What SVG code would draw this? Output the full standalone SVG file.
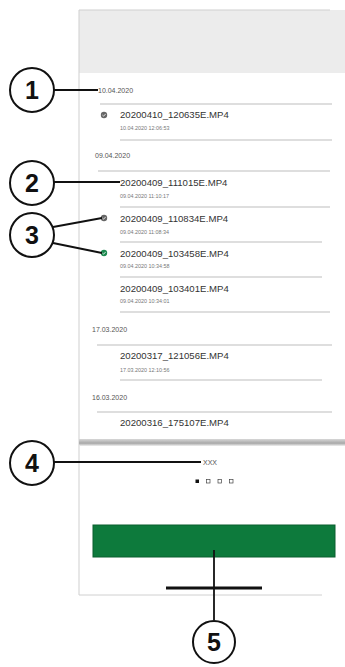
<svg xmlns="http://www.w3.org/2000/svg" width="345" height="667" viewBox="0 0 345 667">
<defs>
<linearGradient id="sh" x1="0" y1="0" x2="0" y2="1">
<stop offset="0" stop-color="#d8d8d8"/>
<stop offset="0.6" stop-color="#a8a8a8"/>
<stop offset="1" stop-color="#f0f0f0"/>
</linearGradient>
<g id="chk"><path d="M-1.6 0 L-0.4 1.2 L1.7 -1.1" fill="none" stroke="#fff" stroke-width="0.8"/></g>
</defs>
<style>
.t{font-family:"Liberation Sans",Arial,sans-serif;fill:#333;font-size:9.6px}
.s{font-family:"Liberation Sans",Arial,sans-serif;fill:#777;font-size:5.4px}
.d{font-family:"Liberation Sans",Arial,sans-serif;fill:#555;font-size:7px}
.sep{stroke:#bdbdbd;stroke-width:1}
.c{fill:#fff;stroke:#111;stroke-width:2}
.n{font-family:"Liberation Sans",Arial,sans-serif;font-weight:bold;font-size:25px;fill:#111;text-anchor:middle}
.ld{stroke:#111;stroke-width:1.8;fill:none}
</style>
<rect width="345" height="667" fill="#fff"/>
<g id="phone">
<rect x="79" y="10" width="266" height="63" fill="#ececec"/>
<line x1="79" y1="10" x2="330" y2="10" stroke="#cfcfcf"/>
<line x1="79" y1="10" x2="79" y2="595" stroke="#cfcfcf"/>
<line x1="79" y1="595" x2="322" y2="595" stroke="#d0d0d0"/>
<rect x="79" y="439" width="266" height="7" fill="url(#sh)"/>
</g>
<g id="list">
<text class="d" x="98" y="93">10.04.2020</text>
<line class="sep" x1="100" y1="104" x2="332" y2="104"/>
<circle cx="104" cy="115" r="3.2" fill="#666"/><use href="#chk" x="104" y="115"/>
<text class="t" x="120" y="118">20200410_120635E.MP4</text>
<text class="s" x="120" y="130">10.04.2020  12:06:53</text>
<line class="sep" x1="120" y1="140" x2="332" y2="140"/>
<text class="d" x="95" y="158">09.04.2020</text>
<line class="sep" x1="98" y1="171" x2="330" y2="171"/>
<text class="t" x="120" y="186">20200409_111015E.MP4</text>
<text class="s" x="120" y="198">09.04.2020  11:10:17</text>
<line class="sep" x1="120" y1="207" x2="330" y2="207"/>
<circle cx="104" cy="218" r="3.2" fill="#666"/><use href="#chk" x="104" y="218"/>
<text class="t" x="120" y="222">20200409_110834E.MP4</text>
<text class="s" x="120" y="234">09.04.2020  11:08:34</text>
<line class="sep" x1="120" y1="242" x2="322" y2="242"/>
<circle cx="104" cy="253" r="3.2" fill="#1c8a50"/><use href="#chk" x="104" y="253"/>
<text class="t" x="120" y="257">20200409_103458E.MP4</text>
<text class="s" x="120" y="268">09.04.2020  10:34:58</text>
<line class="sep" x1="120" y1="277" x2="322" y2="277"/>
<text class="t" x="120" y="292">20200409_103401E.MP4</text>
<text class="s" x="120" y="303">09.04.2020  10:34:01</text>
<line class="sep" x1="120" y1="312" x2="330" y2="312"/>
<text class="d" x="92" y="332">17.03.2020</text>
<line class="sep" x1="97" y1="345" x2="332" y2="345"/>
<text class="t" x="120" y="359">20200317_121056E.MP4</text>
<text class="s" x="120" y="372">17.03.2020  12:10:56</text>
<line class="sep" x1="120" y1="380" x2="322" y2="380"/>
<text class="d" x="92" y="400">16.03.2020</text>
<line class="sep" x1="97" y1="412" x2="332" y2="412"/>
<text class="t" x="120" y="426">20200316_175107E.MP4</text>
</g>
<g id="bottom">
<text class="d" x="203" y="465">XXX</text>
<rect x="195.5" y="479.5" width="3.5" height="3.5" fill="#111"/>
<rect x="206.5" y="479.5" width="3.5" height="3.5" fill="none" stroke="#444" stroke-width="0.7"/>
<rect x="218" y="479.5" width="3.5" height="3.5" fill="none" stroke="#444" stroke-width="0.7"/>
<rect x="229.5" y="479.5" width="3.5" height="3.5" fill="none" stroke="#444" stroke-width="0.7"/>
<rect id="button" x="93" y="525" width="242" height="32" fill="#0d7a3c" stroke="#0a5f2f" stroke-width="1"/>
<line x1="166" y1="588" x2="262" y2="588" stroke="#111" stroke-width="3"/>
</g>
<g id="connectors">
<line class="ld" x1="54" y1="90" x2="98" y2="90"/>
<line class="ld" x1="54" y1="182" x2="120" y2="182"/>
<line class="ld" x1="53" y1="227" x2="102" y2="218"/>
<line class="ld" x1="53" y1="243" x2="102" y2="253"/>
<line class="ld" x1="54" y1="462" x2="201" y2="462"/>
<line class="ld" x1="214" y1="620" x2="214" y2="550"/>
</g>
<g id="c1"><circle class="c" cx="32" cy="90" r="22"/><text class="n" x="32" y="99">1</text></g>
<g id="c2"><circle class="c" cx="32" cy="183" r="22"/><text class="n" x="32" y="192">2</text></g>
<g id="c3"><circle class="c" cx="32" cy="235" r="22"/><text class="n" x="32" y="244">3</text></g>
<g id="c4"><circle class="c" cx="32" cy="463" r="22"/><text class="n" x="32" y="472">4</text></g>
<g id="c5"><circle class="c" cx="214" cy="642" r="21"/><text class="n" x="214" y="651">5</text></g>
</svg>
